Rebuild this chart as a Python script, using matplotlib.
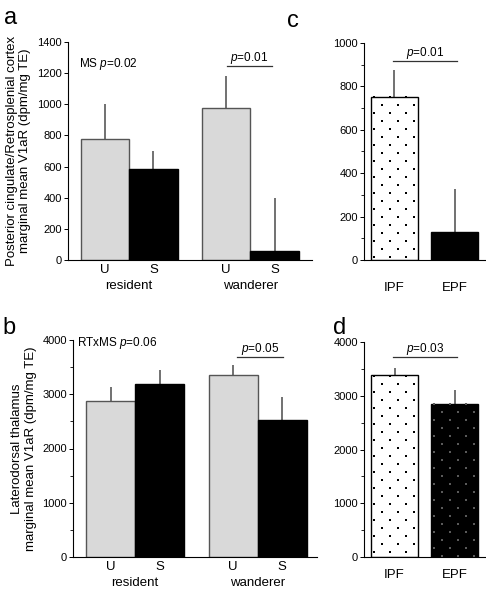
import numpy as np
import matplotlib
matplotlib.use("Agg")
import matplotlib.pyplot as plt
from matplotlib.ticker import MultipleLocator

plt.rcParams['font.family'] = ['Liberation Sans', 'DejaVu Sans']
plt.rcParams['mathtext.fontset'] = 'custom'
plt.rcParams['mathtext.rm'] = 'Liberation Sans'
plt.rcParams['mathtext.it'] = 'Liberation Sans:italic'

# ---- data ----
rs_groups = ["resident", "wanderer"]
rs_bars = ["U", "S"]

# panel a: posterior cingulate / retrosplenial cortex
a_means = [780, 585, 975, 60]
a_errs = [220, 115, 205, 335]

# panel b: laterodorsal thalamus
b_means = [2870, 3190, 3360, 2520]
b_errs = [270, 260, 170, 430]

# panels c/d: paternity
pf_labels = ["IPF", "EPF"]
c_means = [752, 130]
c_errs = [124, 197]
d_means = [3380, 2850]
d_errs = [140, 260]

W, H = 486, 590
fig = plt.figure(figsize=(W / 100, H / 100), dpi=100)

GREY = "#d9d9d9"
EDGE = "#555555"
ERR = "#666666"


def px_axes(left, top, right, bottom):
    return fig.add_axes([left / W, 1 - bottom / H, (right - left) / W, (bottom - top) / H])


def style_axes(ax, ymax, major, minor=None):
    ax.set_ylim(0, ymax)
    ax.yaxis.set_major_locator(MultipleLocator(major))
    if minor:
        ax.yaxis.set_minor_locator(MultipleLocator(minor))
    for s in ("top", "right"):
        ax.spines[s].set_visible(False)
    ax.spines["left"].set_linewidth(0.8)
    ax.spines["bottom"].set_linewidth(0.8)
    ax.tick_params(axis="y", labelsize=8, length=3, width=0.7, pad=1.5)
    ax.tick_params(axis="y", which="minor", length=2, width=0.6)
    ax.tick_params(axis="x", length=0, labelsize=9.5, pad=3)


def errbars(ax, x, means, errs):
    for xi, m, e in zip(x, means, errs):
        ax.plot([xi, xi], [m, m + e], color=ERR, lw=1.3, zorder=1, solid_capstyle="butt")


def dots(ax, x, h, color):
    # staggered dot texture drawn in pixel space over a bar
    fig.canvas.draw()
    (x0, y0), (x1, y1) = ax.transData.transform([(x - 0.5, 0), (x + 0.5, h)])
    pts = []
    row = 0
    y = y1 - 0.5
    while y > y0:
        start = x0 + (2.5 if row % 2 == 0 else 10.5)
        xx = start
        while xx < x1 - 1:
            pts.append((xx, y))
            xx += 16.2
        y -= 8.0
        row += 1
    pts = ax.transData.inverted().transform(np.array(pts))
    ax.scatter(pts[:, 0], pts[:, 1], marker="s", s=1.8, color=color, linewidths=0, zorder=4)


def sig_line(ax, x0, x1, y, text):
    ax.plot([x0, x1], [y, y], color="#333333", lw=0.9, clip_on=False)
    ax.text((x0 + x1) / 2, y, r"$\it{p}$=" + text, ha="center", va="bottom", fontsize=8.5)


def group_labels(ax):
    for xc, g in zip([0.5, 3.0], rs_groups):
        ax.text(xc, -0.12, g, transform=ax.get_xaxis_transform(), ha="center", va="center", fontsize=9.5)


# ---- panel a ----
ax_a = px_axes(68, 42, 312, 260)
xa = np.array([0, 1, 2.5, 3.5])
ax_a.bar(xa, a_means, width=1, color=[GREY, "black", GREY, "black"],
         edgecolor=[EDGE, "black", EDGE, "black"], linewidth=1, zorder=2)
errbars(ax_a, xa, a_means, a_errs)
ax_a.set_xlim(-0.76, 4.27)
style_axes(ax_a, 1400, 200)
ax_a.set_xticks(xa)
ax_a.set_xticklabels(rs_bars * 2)
group_labels(ax_a)
ax_a.text(0.045, 0.9, r"MS $\it{p}$=0.02", transform=ax_a.transAxes, fontsize=8.5, va="center")
sig_line(ax_a, 2.52, 3.44, 1245, "0.01")
ax_a.set_ylabel("Posterior cingulate/Retrosplenial cortex\nmarginal mean V1aR (dpm/mg TE)",
                fontsize=9.5, labelpad=4, linespacing=1.15)

# ---- panel b ----
ax_b = px_axes(73, 340, 317, 557)
ax_b.bar(xa, b_means, width=1, color=[GREY, "black", GREY, "black"],
         edgecolor=[EDGE, "black", EDGE, "black"], linewidth=1, zorder=2)
errbars(ax_b, xa, b_means, b_errs)
ax_b.set_xlim(-0.77, 4.21)
style_axes(ax_b, 4000, 1000, 500)
ax_b.set_xticks(xa)
ax_b.set_xticklabels(rs_bars * 2)
group_labels(ax_b)
ax_b.text(0.015, 0.985, r"RTxMS $\it{p}$=0.06", transform=ax_b.transAxes, fontsize=8.5, va="center")
sig_line(ax_b, 2.58, 3.52, 3687, "0.05")
ax_b.set_ylabel("Laterodorsal thalamus\nmarginal mean V1aR (dpm/mg TE)",
                fontsize=9.5, labelpad=4, linespacing=1.15)

# ---- panel c ----
xc = np.array([0, 1.28])
ax_c = px_axes(364, 43, 485, 260)
ax_c.bar(xc, c_means, width=1, color=["white", "black"], edgecolor="black", linewidth=1, zorder=2)
errbars(ax_c, xc, c_means, c_errs)
ax_c.set_xlim(-0.65, 1.93)
style_axes(ax_c, 1000, 200, 100)
ax_c.set_xticks(xc)
ax_c.set_xticklabels(pf_labels)
ax_c.tick_params(axis="x", pad=16)
sig_line(ax_c, -0.03, 1.33, 917, "0.01")

# ---- panel d ----
ax_d = px_axes(364, 342, 486, 557)
ax_d.bar(xc, d_means, width=1, color=["white", "black"], edgecolor="black", linewidth=1, zorder=2)
errbars(ax_d, xc, d_means, d_errs)
ax_d.set_xlim(-0.65, 1.95)
style_axes(ax_d, 4000, 1000, 500)
ax_d.set_xticks(xc)
ax_d.set_xticklabels(pf_labels)
ax_d.tick_params(axis="x", pad=9)
sig_line(ax_d, -0.03, 1.33, 3720, "0.03")

dots(ax_c, xc[0], c_means[0], "black")
dots(ax_d, xc[0], d_means[0], "black")
dots(ax_d, xc[1], d_means[1], "#5a5a5a")

# panel letters
for lab, x, y in [("a", 4, 24), ("b", 2, 334), ("c", 287, 27), ("d", 333, 334)]:
    fig.text(x / W, 1 - y / H, lab, fontsize=17, ha="left", va="baseline")

fig.savefig("out.png", dpi=100)
